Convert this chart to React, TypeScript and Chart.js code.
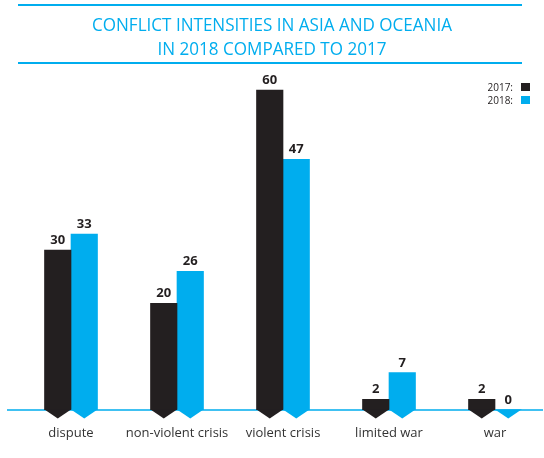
import React, { useEffect, useRef } from 'react';
import { Chart, registerables } from 'chart.js';

Chart.register(...registerables);

const categories = ['dispute', 'non-violent crisis', 'violent crisis', 'limited war', 'war'];
const values2017 = [30, 20, 60, 2, 2];
const values2018 = [33, 26, 47, 7, 0];
const seriesLabels = ['2017:', '2018:'];
const titleLines = ['CONFLICT INTENSITIES IN ASIA AND OCEANIA', 'IN 2018 COMPARED TO 2017'];

const BLACK = '#231f20';
const CYAN = '#00adee';
const TEXT = '#333333';

const X_MIN = -64 / 106;
const X_MAX = X_MIN + 536 / 106;
const Y_MAX = 340 / (320 / 60);

function fitText(ctx: CanvasRenderingContext2D, text: string, cx: number, y: number, width: number) {
  const m = ctx.measureText(text).width;
  const s = width / m;
  ctx.save();
  ctx.translate(cx, y);
  ctx.scale(s, 1);
  ctx.textAlign = 'center';
  ctx.fillText(text, 0, 0);
  ctx.restore();
}

export default function App() {
  const ref = useRef<HTMLCanvasElement>(null);

  useEffect(() => {
    const canvas = ref.current!;
    const overlay = {
      id: 'overlay',
      beforeDatasetsDraw(chart: any) {
        const ctx = chart.ctx as CanvasRenderingContext2D;
        const y0 = chart.scales.y.getPixelForValue(0);
        ctx.save();
        ctx.strokeStyle = CYAN;
        ctx.lineWidth = 1.5;
        ctx.beginPath();
        ctx.moveTo(chart.chartArea.left, y0);
        ctx.lineTo(chart.chartArea.right, y0);
        ctx.stroke();
        ctx.restore();
      },
      afterDatasetsDraw(chart: any) {
        const ctx = chart.ctx as CanvasRenderingContext2D;
        ctx.save();
        chart.data.datasets.forEach((ds: any, di: number) => {
          const meta = chart.getDatasetMeta(di);
          meta.data.forEach((el: any, i: number) => {
            const p = el.getProps(['x', 'y', 'width', 'base'], true);
            ctx.fillStyle = ds.backgroundColor;
            ctx.beginPath();
            ctx.moveTo(p.x - p.width / 2, p.base - 0.5);
            ctx.lineTo(p.x + p.width / 2, p.base - 0.5);
            ctx.lineTo(p.x, p.base + 8.5);
            ctx.closePath();
            ctx.fill();
            const v = ds.data[i].y;
            ctx.fillStyle = BLACK;
            ctx.font = 'bold 13px "Open Sans"';
            ctx.textAlign = 'center';
            ctx.textBaseline = 'alphabetic';
            ctx.fillText(String(v), p.x, p.y - 6);
          });
        });
        ctx.restore();
      },
      afterDraw(chart: any) {
        const ctx = chart.ctx as CanvasRenderingContext2D;
        ctx.save();
        ctx.fillStyle = CYAN;
        ctx.fillRect(18, 4, 504, 2);
        ctx.fillRect(18, 62, 504, 2);
        ctx.font = '18px "Open Sans"';
        ctx.textBaseline = 'alphabetic';
        fitText(ctx, titleLines[0], 272, 31, 360);
        fitText(ctx, titleLines[1], 272, 55, 229);
        ctx.font = '10px "Open Sans"';
        ctx.textAlign = 'right';
        ctx.fillStyle = BLACK;
        ctx.fillText(seriesLabels[0], 513, 91);
        ctx.fillText(seriesLabels[1], 513, 104);
        ctx.fillStyle = BLACK;
        ctx.fillRect(521, 83, 9, 8);
        ctx.fillStyle = CYAN;
        ctx.fillRect(521, 96, 9, 8);
        ctx.font = '13px "Open Sans"';
        ctx.textAlign = 'center';
        ctx.fillStyle = TEXT;
        const xs = chart.scales.x;
        categories.forEach((c, i) => {
          ctx.fillText(c, xs.getPixelForValue(i), 437);
        });
        ctx.restore();
      },
    };

    const chart = new Chart(canvas, {
      type: 'bar',
      data: {
        datasets: [
          {
            label: seriesLabels[0],
            data: categories.map((_, i) => ({ x: i, y: values2017[i] })),
            backgroundColor: BLACK,
          },
          {
            label: seriesLabels[1],
            data: categories.map((_, i) => ({ x: i, y: values2018[i] })),
            backgroundColor: CYAN,
          },
        ],
      },
      options: {
        responsive: false,
        animation: false,
        devicePixelRatio: 1,
        layout: { padding: { left: 7, right: 1, top: 70, bottom: 48 } },
        datasets: { bar: { barThickness: 26.5, borderWidth: 0 } },
        scales: {
          x: {
            type: 'linear',
            display: false,
            offset: false,
            bounds: 'data',
            grid: { offset: false },
            min: X_MIN,
            max: X_MAX,
          },
          y: { display: false, min: 0, max: Y_MAX },
        },
        plugins: {
          legend: { display: false },
          tooltip: { enabled: false },
          title: { display: false },
        },
      } as any,
      plugins: [overlay],
    });
    return () => chart.destroy();
  }, []);

  return (
    <div style={{ position: 'fixed', left: 0, top: 0, width: 544, height: 458, background: '#fff' }}>
      <canvas ref={ref} width={544} height={458} style={{ display: 'block' }} />
    </div>
  );
}
